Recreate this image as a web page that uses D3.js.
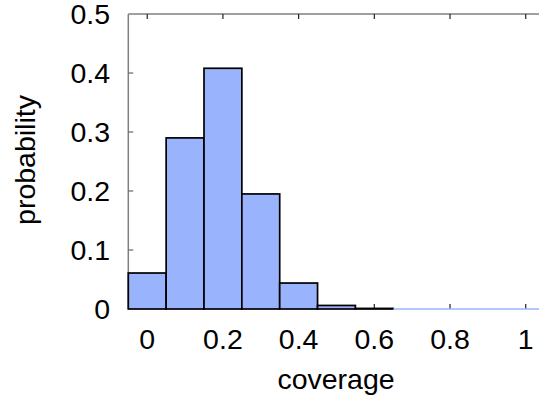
<!DOCTYPE html>
<html>
<head>
<meta charset="utf-8">
<script src="https://cdn.jsdelivr.net/npm/d3@7"></script>
<style>
  body { margin: 0; background: #fff; }
  text { font-family: "Liberation Sans", Arial, sans-serif; }
</style>
</head>
<body>
<svg id="chart"></svg>
<script>
// histogram data: bin centres and probabilities
const binCenters = [0, 0.1, 0.2, 0.3, 0.4, 0.5, 0.6, 0.7, 0.8, 0.9, 1.0];
const probs = [0.061, 0.29, 0.408, 0.195, 0.044, 0.006, 0.001, 0, 0, 0, 0];
const xTicks = [0, 0.2, 0.4, 0.6, 0.8, 1];
const yTicks = [0, 0.1, 0.2, 0.3, 0.4, 0.5];
const binWidth = 0.1;

const width = 539, height = 403;
const margin = { top: 14, left: 128.3, bottom: 94 };

const svg = d3.select('#chart')
  .attr('width', width)
  .attr('height', height);

const x = d3.scaleLinear()
  .domain([-0.05, 1.05])
  .range([margin.left, margin.left + 1.1 * 378.5]);

const y = d3.scaleLinear()
  .domain([0, 0.5])
  .range([height - margin.bottom, margin.top]);

const fontSize = 28.5;
const fmt = d => d === 0 ? '0' : d === 1 ? '1' : d3.format('.1f')(d);

/* frame lines (left + top) */
svg.append('line')
  .attr('x1', x(-0.05)).attr('x2', x(-0.05))
  .attr('y1', y(0)).attr('y2', y(0.5))
  .attr('stroke', '#808080').attr('stroke-width', 1.5);
svg.append('line')
  .attr('x1', x(-0.05)).attr('x2', x(1.05))
  .attr('y1', y(0.5)).attr('y2', y(0.5))
  .attr('stroke', '#808080').attr('stroke-width', 1.5);

/* inward ticks */
const tickLen = 5;
svg.append('g').selectAll('line').data(xTicks).join('line')
  .attr('x1', d => x(d)).attr('x2', d => x(d))
  .attr('y1', y(0.5)).attr('y2', y(0.5) + tickLen)
  .attr('stroke', '#222').attr('stroke-width', 1.2);
svg.append('g').selectAll('line').data(xTicks).join('line')
  .attr('x1', d => x(d)).attr('x2', d => x(d))
  .attr('y1', y(0)).attr('y2', y(0) - tickLen)
  .attr('stroke', '#222').attr('stroke-width', 1.2);
svg.append('g').selectAll('line').data(yTicks.slice(1, -1)).join('line')
  .attr('x1', x(-0.05)).attr('x2', x(-0.05) + tickLen)
  .attr('y1', d => y(d)).attr('y2', d => y(d))
  .attr('stroke', '#666').attr('stroke-width', 1.2);

/* bars */
const bins = binCenters.map((c, i) => ({ c, p: probs[i] }));
svg.append('g').selectAll('rect').data(bins.filter(d => d.p > 0)).join('rect')
  .attr('x', d => x(d.c - binWidth / 2))
  .attr('width', d => x(d.c + binWidth / 2) - x(d.c - binWidth / 2))
  .attr('y', d => y(d.p))
  .attr('height', d => y(0) - y(d.p))
  .attr('fill', '#99b4fd')
  .attr('stroke', '#000')
  .attr('stroke-width', 1.7);
// empty bins show as a flat blue line on the baseline
svg.append('g').selectAll('line').data(bins.filter(d => d.p === 0)).join('line')
  .attr('x1', d => x(d.c - binWidth / 2))
  .attr('x2', d => x(d.c + binWidth / 2))
  .attr('y1', y(0)).attr('y2', y(0))
  .attr('stroke', '#99b4fd').attr('stroke-width', 1.5);

/* tick labels */
svg.append('g').selectAll('text').data(xTicks).join('text')
  .attr('x', d => x(d))
  .attr('y', 349)
  .attr('text-anchor', 'middle')
  .attr('font-size', fontSize)
  .text(fmt);
svg.append('g').selectAll('text').data(yTicks).join('text')
  .attr('x', 110)
  .attr('y', d => y(d) + 10)
  .attr('text-anchor', 'end')
  .attr('font-size', fontSize)
  .text(fmt);

/* axis titles */
svg.append('text')
  .attr('x', 336)
  .attr('y', 389)
  .attr('text-anchor', 'middle')
  .attr('font-size', fontSize)
  .text('coverage');
svg.append('text')
  .attr('transform', 'translate(35,160) rotate(-90)')
  .attr('text-anchor', 'middle')
  .attr('font-size', fontSize)
  .text('probability');
</script>
</body>
</html>
